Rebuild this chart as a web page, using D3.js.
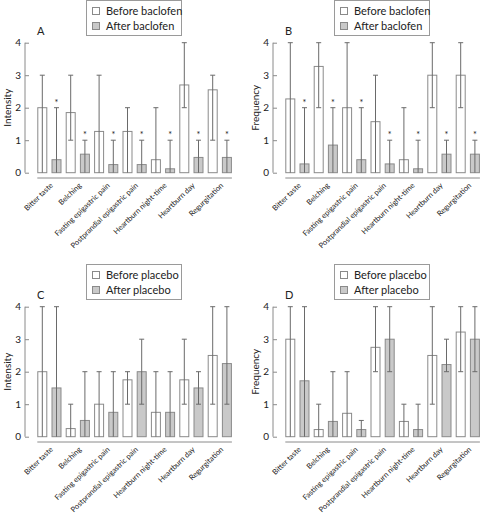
<!DOCTYPE html>
<html><head><meta charset="utf-8">
<script src="https://cdn.jsdelivr.net/npm/d3@7"></script>
<style>body{margin:0;background:#fff}svg{display:block}text{font-family:Lato,"Open Sans",sans-serif;fill:#222}</style>
</head><body><svg id="c" width="480" height="516"></svg>
<script>
const categories = ["Bitter taste","Belching","Fasting epigastric pain","Postprandial epigastric pain","Heartburn night-time","Heartburn day","Regurgitation"];
const yTicks = [0,1,2,3,4];

// Panel A: intensity, baclofen
const beforeA   = [2.0,1.85,1.27,1.27,0.4,2.7,2.55];
const beforeALo = [0,1,0,0,0,2,1];
const beforeAHi = [3,3,3,2,2,4,3];
const afterA    = [0.4,0.57,0.25,0.25,0.12,0.47,0.47];
const afterALo  = [0,0,0,0,0,0,0];
const afterAHi  = [2,1,1,1,1,1,1];
const sigA      = [1,1,1,1,1,1,1];

// Panel B: frequency, baclofen
const beforeB   = [2.27,3.27,2.0,1.57,0.4,3.0,3.0];
const beforeBLo = [0,2,0,0,0,2,2];
const beforeBHi = [4,4,4,3,2,4,4];
const afterB    = [0.27,0.85,0.4,0.27,0.12,0.57,0.57];
const afterBLo  = [0,0,0,0,0,0,0];
const afterBHi  = [2,2,2,1,1,1,1];
const sigB      = [1,1,1,1,1,1,1];

// Panel C: intensity, placebo
const beforeC   = [2.0,0.25,1.0,1.75,0.75,1.75,2.5];
const beforeCLo = [0,0,0,1,0,1,1];
const beforeCHi = [4,1,2,2,2,3,4];
const afterC    = [1.5,0.5,0.75,2.0,0.75,1.5,2.25];
const afterCLo  = [0,0,0,1,0,1,1];
const afterCHi  = [4,2,2,3,2,2,4];
const sigC      = [0,0,0,0,0,0,0];

// Panel D: frequency, placebo
const beforeD   = [3.0,0.22,0.72,2.75,0.47,2.5,3.22];
const beforeDLo = [0,0,0,2,0,1,2];
const beforeDHi = [4,1,2,4,1,4,4];
const afterD    = [1.72,0.47,0.22,3.0,0.22,2.22,3.0];
const afterDLo  = [0,0,0,2,0,2,2];
const afterDHi  = [4,2,0.5,4,1,3,4];
const sigD      = [0,0,0,0,0,0,0];

const panels = [
  {label:"A", ylab:"Intensity", leg:["Before baclofen","After baclofen"], ox:0, oy:0,
   before:beforeA, bLo:beforeALo, bHi:beforeAHi, after:afterA, aLo:afterALo, aHi:afterAHi, sig:sigA},
  {label:"B", ylab:"Frequency", leg:["Before baclofen","After baclofen"], ox:248, oy:0,
   before:beforeB, bLo:beforeBLo, bHi:beforeBHi, after:afterB, aLo:afterBLo, aHi:afterBHi, sig:sigB},
  {label:"C", ylab:"Intensity", leg:["Before placebo","After placebo"], ox:0, oy:264,
   before:beforeC, bLo:beforeCLo, bHi:beforeCHi, after:afterC, aLo:afterCLo, aHi:afterCHi, sig:sigC},
  {label:"D", ylab:"Frequency", leg:["Before placebo","After placebo"], ox:248, oy:264,
   before:beforeD, bLo:beforeDLo, bHi:beforeDHi, after:afterD, aLo:afterDLo, aHi:afterDHi, sig:sigD}
];

const svg = d3.select("#c");
const fillBefore = "#ffffff", fillAfter = "#c9c9c9";
const strokeBar = "#8a8a8a", errCol = "#6a6a6a", axisCol = "#8a8a8a";

const x0 = d3.scaleBand().domain(categories).range([35.2, 234.0]).padding(0);
const x1 = d3.scaleBand().domain(["before","after"]).range([0, x0.bandwidth()])
  .paddingInner(0.2958).paddingOuter(0.1479);
const y = d3.scaleLinear().domain([0,4]).range([172.7, 42.7]);

panels.forEach(p => {
  const g = svg.append("g").attr("transform", `translate(${p.ox},${p.oy})`);

  // y axis
  const ya = g.append("g").attr("transform","translate(25,0)")
    .call(d3.axisRight(y).tickValues(yTicks).tickSize(4).tickFormat(d3.format("d")));
  ya.select(".domain").attr("stroke", axisCol).attr("d", `M0,${y(4)}V${y(0)}`);
  ya.selectAll(".tick line").attr("stroke", axisCol);
  ya.selectAll(".tick text").attr("x", -4).attr("text-anchor","end")
    .style("font-size","10px").style("font-family","Lato,sans-serif").attr("fill","#222");

  // x axis line
  g.append("line").attr("x1", x0(categories[0]) + x1("before")).attr("x2", x0(categories[6]) + x1("after") + x1.bandwidth())
    .attr("y1", 178).attr("y2", 178).attr("stroke", axisCol);

  // y label
  g.append("text").attr("transform", `translate(11,${(y(0)+y(4))/2}) rotate(-90)`)
    .attr("text-anchor","middle").style("font-size","10px").text(p.ylab);

  // panel label
  g.append("text").attr("x", 37).attr("y", 35).style("font-size","11px").text(p.label);

  const rows = categories.map((c,i) => [
    {c, k:"before", v:p.before[i], lo:p.bLo[i], hi:p.bHi[i], s:0},
    {c, k:"after",  v:p.after[i],  lo:p.aLo[i], hi:p.aHi[i], s:p.sig[i]}
  ]).flat();

  g.selectAll("rect.bar").data(rows).join("rect").attr("class","bar")
    .attr("x", d => x0(d.c) + x1(d.k) + 0.5)
    .attr("y", d => y(d.v))
    .attr("width", x1.bandwidth() - 1)
    .attr("height", d => y(0) - y(d.v))
    .attr("fill", d => d.k === "before" ? fillBefore : fillAfter)
    .attr("stroke", strokeBar).attr("stroke-width", 1);

  const cx = d => x0(d.c) + x1(d.k) + x1.bandwidth()/2;
  g.selectAll("line.err").data(rows).join("line").attr("class","err")
    .attr("x1", cx).attr("x2", cx).attr("y1", d => y(d.lo)).attr("y2", d => y(d.hi))
    .attr("stroke", errCol).attr("stroke-width", 1);
  g.selectAll("line.capHi").data(rows).join("line").attr("class","capHi")
    .attr("x1", d => cx(d) - 2.5).attr("x2", d => cx(d) + 2.5)
    .attr("y1", d => y(d.hi)).attr("y2", d => y(d.hi))
    .attr("stroke", errCol);
  g.selectAll("line.capLo").data(rows.filter(d => d.lo > 0)).join("line").attr("class","capLo")
    .attr("x1", d => cx(d) - 2.5).attr("x2", d => cx(d) + 2.5)
    .attr("y1", d => y(d.lo)).attr("y2", d => y(d.lo))
    .attr("stroke", errCol);

  g.selectAll("text.sig").data(rows.filter(d => d.s)).join("text").attr("class","sig")
    .attr("x", cx).attr("y", d => y(d.hi) - 2).attr("text-anchor","middle")
    .style("font-size","9px").text("*");

  // rotated category labels
  g.selectAll("text.cat").data(categories).join("text").attr("class","cat")
    .attr("transform", c => `translate(${x0(c) + x0.bandwidth()/2 + 4},${186}) rotate(-44)`)
    .attr("text-anchor","end").style("font-size","7.5px").attr("fill","#222").text(c => c);

  // legend
  const lg = g.append("g");
  lg.append("rect").attr("x", 86.5).attr("y", 0.5).attr("width", 95).attr("height", 35)
    .attr("fill","#fff").attr("stroke","#9a9a9a");
  p.leg.forEach((t,i) => {
    lg.append("rect").attr("x", 92.5).attr("y", 7.5 + i*15).attr("width", 7).attr("height", 7)
      .attr("fill", i === 0 ? fillBefore : fillAfter).attr("stroke", strokeBar);
    lg.append("text").attr("x", 106).attr("y", 15 + i*15).style("font-size","11px").text(t);
  });
});
</script></body></html>
